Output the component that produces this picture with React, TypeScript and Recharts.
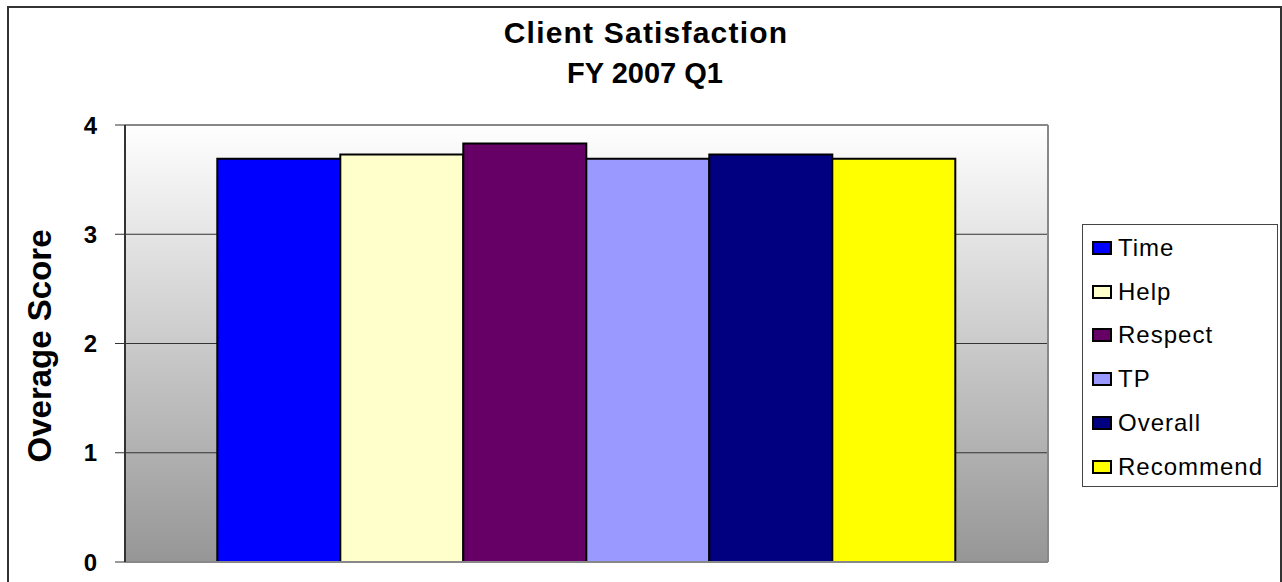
import React from 'react';
import {
  BarChart,
  Bar,
  XAxis,
  YAxis,
  CartesianGrid,
  ReferenceLine,
  Legend,
} from 'recharts';

const categories = ['FY 2007 Q1'];
const seriesNames = ['Time', 'Help', 'Respect', 'TP', 'Overall', 'Recommend'];
const seriesValues = [3.69, 3.73, 3.83, 3.69, 3.73, 3.69];
const seriesColors = ['#0000FF', '#FFFFCC', '#660066', '#9999FF', '#000080', '#FFFF00'];
const yTicks = [0, 1, 2, 3, 4];

const chartData = categories.map((name) => {
  const row: Record<string, string | number> = { name };
  seriesNames.forEach((s, i) => {
    row[s] = seriesValues[i];
  });
  return row;
});

const fontStack = 'Arial, "Liberation Sans", sans-serif';

function YTick({ x, y, payload }: any) {
  return (
    <text
      x={x}
      y={y}
      dy={8.5}
      textAnchor="end"
      fontSize={24}
      fontWeight={700}
      fill="#000"
      fontFamily={fontStack}
    >
      {payload.value}
    </text>
  );
}

// legend keeps the series order, not recharts' sorted payload
function LegendBox() {
  return (
    <div
      style={{
        boxSizing: 'border-box',
        width: 196,
        height: 263,
        border: '1px solid #444',
        background: '#fff',
        paddingTop: 1,
        fontFamily: fontStack,
      }}
    >
      {seriesNames.map((name, idx) => (
        <div key={name} style={{ height: 43.8, display: 'flex', alignItems: 'center' }}>
          <span
            style={{
              display: 'inline-block',
              marginLeft: 9,
              width: 20,
              height: 14,
              boxSizing: 'border-box',
              border: '2px solid #000',
              background: seriesColors[idx],
            }}
          />
          <span style={{ marginLeft: 6, fontSize: 24, letterSpacing: 1, color: '#000' }}>
            {name}
          </span>
        </div>
      ))}
    </div>
  );
}

export default function App() {
  return (
    <div
      style={{
        position: 'relative',
        width: 1282,
        height: 582,
        background: '#fff',
        overflow: 'hidden',
        fontFamily: fontStack,
      }}
    >
      <style>{'body{margin:0;overflow:hidden}'}</style>
      <BarChart
        width={1282}
        height={582}
        data={chartData}
        margin={{ top: 125, right: 233, bottom: 19, left: 45 }}
        barCategoryGap="10%"
        barGap={0}
      >
        <defs>
          <linearGradient id="plotBg" x1="0" y1="0" x2="0" y2="1">
            <stop offset="0%" stopColor="#ffffff" />
            <stop offset="100%" stopColor="#969696" />
          </linearGradient>
        </defs>
        <CartesianGrid vertical={false} stroke="#333" fill="url(#plotBg)" fillOpacity={1} />
        <XAxis
          dataKey="name"
          tick={false}
          tickLine={false}
          height={1}
          axisLine={{ stroke: '#888', strokeWidth: 2 }}
        />
        <YAxis
          width={80}
          domain={[0, 4]}
          ticks={yTicks}
          interval={0}
          tickSize={10}
          tickMargin={18}
          tick={<YTick />}
          axisLine={{ stroke: '#333', strokeWidth: 2 }}
          tickLine={{ stroke: '#333' }}
        />
        <YAxis
          yAxisId="r"
          orientation="right"
          domain={[0, 4]}
          width={1}
          tick={false}
          tickLine={false}
          axisLine={{ stroke: '#888', strokeWidth: 2 }}
        />
        <ReferenceLine y={4} stroke="#888" strokeWidth={2} />
        <Legend
          layout="vertical"
          align="center"
          verticalAlign="middle"
          content={<LegendBox />}
          wrapperStyle={{ left: 1082, top: 224, width: 196, height: 263 }}
        />
        {seriesNames.map((s, i) => (
          <Bar
            key={s}
            dataKey={s}
            fill={seriesColors[i]}
            stroke="#000"
            strokeWidth={2}
            isAnimationActive={false}
          />
        ))}
        <text x={646} y={43} textAnchor="middle" fontSize={30} fontWeight={700} letterSpacing={1.2} fill="#000">
          Client Satisfaction
        </text>
        <text x={645} y={83} textAnchor="middle" fontSize={29} fontWeight={700} fill="#000">
          FY 2007 Q1
        </text>
        <text
          x={51}
          y={346}
          transform="rotate(-90, 51, 346)"
          textAnchor="middle"
          fontSize={33}
          fontWeight={700}
          fill="#000"
        >
          Overage Score
        </text>
      </BarChart>
      <div
        style={{
          position: 'absolute',
          left: 7,
          top: 6,
          width: 1275,
          height: 600,
          boxSizing: 'border-box',
          border: '2px solid #333',
          borderBottom: 'none',
          pointerEvents: 'none',
        }}
      />
    </div>
  );
}
